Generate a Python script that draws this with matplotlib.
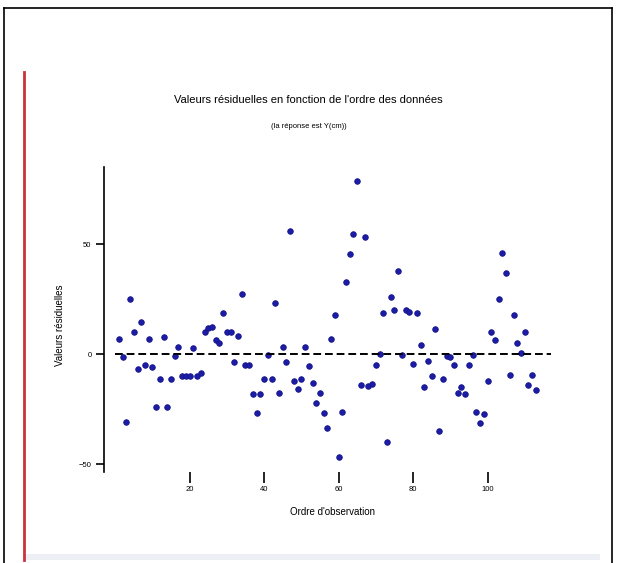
import numpy as np
import matplotlib
matplotlib.use("Agg")
import matplotlib.pyplot as plt
from matplotlib.lines import Line2D
from matplotlib.patches import Rectangle

plt.rcParams["font.family"] = ["Liberation Sans", "DejaVu Sans"]

# Residuals in observation order
residus = [
    6.8, -1.2, -30.8, 24.9, 10.1, -7.0, 14.7, -5.0, 6.7, -6.0,
    -24.2, -11.5, 7.9, -24.2, -11.5, -0.9, 3.0, -10.0, -10.0, -10.0,
    2.6, -10.0, -8.8, 10.1, 11.7, 12.4, 6.4, 4.9, 18.5, 10.1,
    10.1, -3.5, 8.0, 27.1, -5.0, -5.0, -18.2, -27.0, -18.2, -11.5,
    -0.5, -11.5, 23.0, -17.9, 3.0, -3.5, 56.0, -12.1, -16.0, -11.5,
    3.0, -5.5, -13.0, -22.4, -17.9, -27.0, -33.8, 6.7, 17.7, -46.7,
    -26.2, 32.9, 45.5, 54.5, 78.8, -14.1, 53.3, -14.5, -13.6, -5.0,
    0.0, 18.5, -39.9, 26.0, 20.0, 37.9, -0.5, 20.0, 19.2, -4.5,
    18.5, 4.1, -15.1, -3.0, -10.0, 11.2, -34.9, -11.5, -0.9, -1.2,
    -5.0, -17.6, -14.9, -18.2, -5.0, -0.5, -26.2, -31.2, -27.3, -12.1,
    10.1, 6.4, 24.9, 46.0, 37.0, -9.5, 17.7, 5.1, 0.3, 10.1,
    -14.1, -9.5, -16.4,
]
ordre = np.arange(1, len(residus) + 1)

xticks = [20, 40, 60, 80, 100]
yticks = [-50, 0, 50]

fig = plt.figure(figsize=(6.17, 5.63), dpi=100)

# page frame around the embedded graph
W, H = 617, 563
def px(x, y):
    return x / W, 1 - y / H

for (x0, y0), (x1, y1), c, lw in [
    ((4, 8), (612, 8), "black", 1.2),
    ((4, 8), (4, 563), "black", 1.2),
    ((612, 8), (612, 563), "black", 1.2),
    ((24, 72), (24, 560), "#c8323c", 2.0),
]:
    a, b = px(x0, y0)
    c2, d = px(x1, y1)
    fig.add_artist(Line2D([a, c2], [b, d], color=c, lw=lw))
bx, by = px(26, 560)
fig.add_artist(Rectangle((bx, by), (600 - 26) / W, 6 / H, color="#eceff4", lw=0))

ax = fig.add_axes([104 / W, 1 - 472 / H, (562 - 104) / W, (472 - 167) / H])
ax.plot(ordre, residus, "o", color="#1c1ca6", ms=4.0, mec="#14148a", mew=0.6)
ax.plot([0, 117], [0, 0], color="black", lw=1.4, ls=(0, (4, 2)))

ax.set_xlim(-3, 120)
ax.set_ylim(-53.6, 85)
ax.set_xticks(xticks)
ax.set_yticks(yticks)
ax.tick_params(axis="x", length=8, width=1.2, labelsize=5.5, pad=2)
ax.tick_params(axis="y", length=6, width=1.2, labelsize=5.5, pad=3)
for s in ["top", "right", "bottom"]:
    ax.spines[s].set_visible(False)
ax.spines["left"].set_linewidth(1.2)

ax.set_xlabel("Ordre d'observation", fontsize=7, labelpad=10)
ax.set_ylabel("Valeurs résiduelles", fontsize=7)
ax.yaxis.set_label_coords(-0.085, 0.48)

fig.text(0.5, 1 - 100 / H, "Valeurs résiduelles en fonction de l'ordre des données",
         ha="center", va="center", fontsize=8)
fig.text(0.5, 1 - 127 / H, "(la réponse est Y(cm))",
         ha="center", va="center", fontsize=5.5)

fig.savefig("out.png", dpi=100)
